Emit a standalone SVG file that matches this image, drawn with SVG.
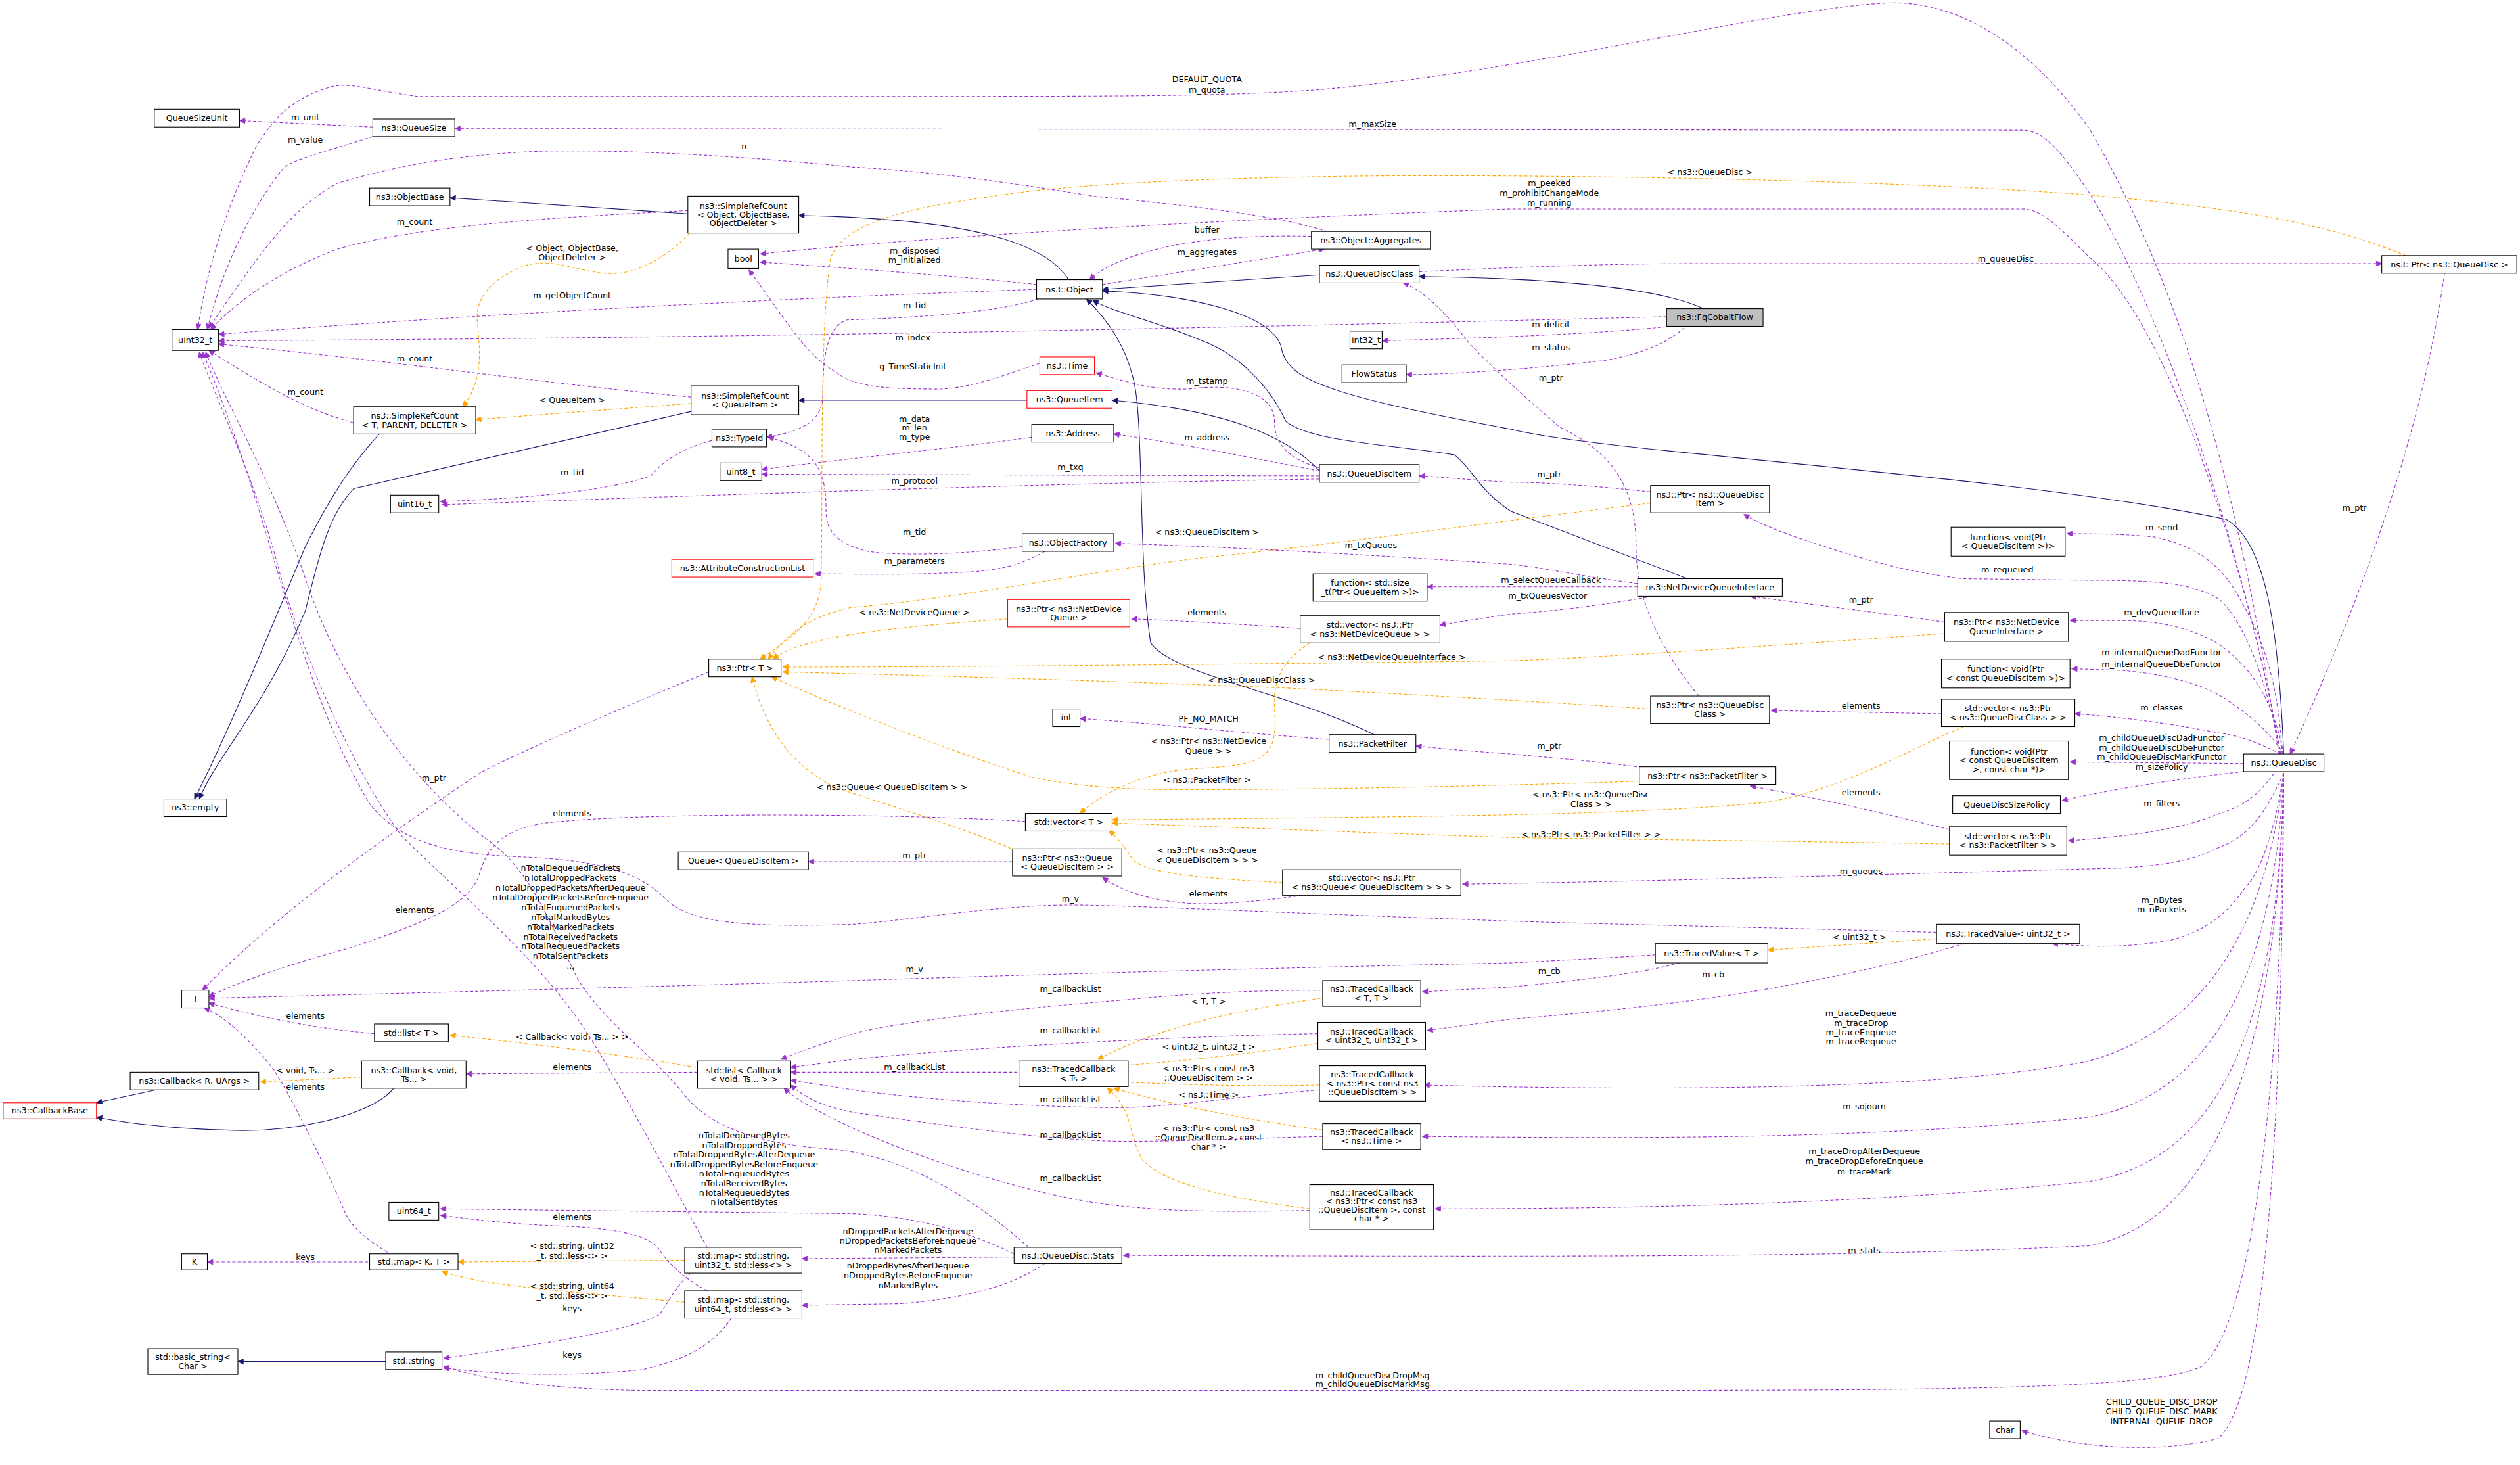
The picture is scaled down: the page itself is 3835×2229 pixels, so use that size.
<svg xmlns="http://www.w3.org/2000/svg" width="3835" height="2229" viewBox="0 0 3835 2229">
<defs>
<style>
text{font-family:"DejaVu Sans","Liberation Sans",sans-serif;font-size:5.2px;text-anchor:middle;fill:#000}
.b{fill:#fff;stroke:#000;stroke-width:.45}
.r{fill:#fff;stroke:#ff0000;stroke-width:.45}
.g{fill:#bfbfbf;stroke:#000;stroke-width:.45}
.p{fill:none;stroke:#9a32cd;stroke-width:.45;stroke-dasharray:2 1.3;marker-end:url(#ap)}
.o{fill:none;stroke:#ffa500;stroke-width:.45;stroke-dasharray:2 1.3;marker-end:url(#ao)}
.s{fill:none;stroke:#191970;stroke-width:.45;marker-end:url(#as)}
</style>
<marker id="ap" viewBox="0 0 10 10" refX="10" refY="5" markerUnits="userSpaceOnUse" markerWidth="4.2" markerHeight="3.4" orient="auto"><path d="M0,0L10,5L0,10z" fill="#9a32cd" stroke="#9a32cd"/></marker>
<marker id="ao" viewBox="0 0 10 10" refX="10" refY="5" markerUnits="userSpaceOnUse" markerWidth="4.2" markerHeight="3.4" orient="auto"><path d="M0,0L10,5L0,10z" fill="#ffa500" stroke="#ffa500"/></marker>
<marker id="as" viewBox="0 0 10 10" refX="10" refY="5" markerUnits="userSpaceOnUse" markerWidth="4.2" markerHeight="3.4" orient="auto"><path d="M0,0L10,5L0,10z" fill="#191970" stroke="#191970"/></marker>
</defs>
<rect width="3835" height="2229" fill="#fff"/>
<g transform="scale(2.4458)">
<g id="edges">
<path class="s" d="M428,133 L280,123"/>
<path class="s" d="M665,174 C650,150 600,136 497,134"/>
<path class="s" d="M821,171 L686,180"/>
<path class="s" d="M1060,192 C1030,178 960,173 883,172"/>
<path class="s" d="M1421,469 C1418,400 1412,338 1385,323 C1250,295 1000,282 940,267 C820,245 800,235 797,215 C790,195 740,183 686,181"/>
<path class="s" d="M1050,360 L940,318 C920,305 915,290 905,283 C870,277 815,275 800,262 C790,240 770,220 748,212 C720,200 695,195 680,187"/>
<path class="s" d="M855,457 C800,430 730,420 716,400 C708,350 712,260 705,235 C700,215 690,200 676,186"/>
<path class="s" d="M639,249 L497,249"/>
<path class="s" d="M821,293 C800,270 760,255 692,249"/>
<path class="s" d="M430,256 L220,304 C205,320 200,340 190,380 C165,440 135,470 124,497"/>
<path class="s" d="M236,270 C225,282 210,300 190,340 C165,400 140,460 121,497"/>
<path class="s" d="M97,678 L60,686"/>
<path class="s" d="M245,677 C230,695 180,705 140,703 C110,702 80,699 60,695"/>
<path class="s" d="M240,847 L148,847"/>

<path class="o" d="M429,145 C415,160 395,172 376,170 C355,168 340,158 320,168 C300,178 296,190 297,200 C298,215 302,235 288,253"/>
<path class="o" d="M430,251 L296,261"/>
<path class="o" d="M1497,159 C1450,140 1400,130 1296,121 C1150,110 900,108 818,110 C700,112 640,118 612,123 C560,130 525,140 517,160 C510,200 512,300 511,360 C510,385 495,395 473,410"/>
<path class="o" d="M1027,313 C950,322 820,340 748,347 C680,355 600,372 529,378 C500,385 490,395 478,410"/>
<path class="o" d="M627,385 C560,390 500,395 481,410"/>
<path class="o" d="M1211,394 C1100,402 980,410 940,411 C800,413 600,415 487,415"/>
<path class="o" d="M1027,441 C980,438 900,433 800,428 C650,422 530,419 487,418"/>
<path class="o" d="M1020,486 C900,490 760,492 714,491 C680,490 660,487 644,484 C600,470 540,448 480,421"/>
<path class="o" d="M632,529 C600,515 550,500 520,490 C490,475 475,450 468,421"/>
<path class="o" d="M815,400 C800,410 792,420 793,440 C795,470 790,476 745,478 C715,480 690,490 672,506"/>
<path class="o" d="M1222,452 C1190,465 1150,490 1100,499 C1020,507 900,508 692,510"/>
<path class="o" d="M1213,525 C1100,523 1000,522 940,521 C850,518 750,514 692,512"/>
<path class="o" d="M798,549 C740,546 715,543 705,535 C700,528 697,522 690,517"/>
<path class="o" d="M1205,584 L1100,591"/>
<path class="o" d="M822,621 C760,630 720,640 683,659"/>
<path class="o" d="M820,649 C780,655 740,660 696,663"/>
<path class="o" d="M821,675 C780,676 740,675 696,673"/>
<path class="o" d="M823,703 C780,697 740,690 693,677"/>
<path class="o" d="M815,752 C760,745 720,735 710,720 C702,705 705,690 689,677"/>
<path class="o" d="M433,664 C380,655 320,648 280,644"/>
<path class="o" d="M225,670 L162,673"/>
<path class="o" d="M426,784 L285,785"/>
<path class="o" d="M426,810 C380,806 330,802 300,797 C290,795 280,793 275,791"/>

<path class="p" d="M232,79 L149,75"/>
<path class="p" d="M232,85 C200,95 180,100 176,105 C160,125 140,160 129,205"/>
<path class="p" d="M1418,469 C1400,350 1370,200 1300,80 C1250,10 1200,0 1172,2 C1100,6 950,45 818,56 C760,60 700,60 531,60 L260,60 C230,56 215,50 203,55 C180,62 170,75 160,90 C140,130 128,170 123,205"/>
<path class="p" d="M1419,469 C1400,360 1350,200 1300,120 C1280,90 1270,81 1258,81 L283,80"/>
<path class="p" d="M826,144 C790,133 740,128 680,122 C620,112 570,106 531,104 C470,98 400,93 339,94 C280,96 240,105 210,114 C180,130 160,160 130,204"/>
<path class="p" d="M816,147 C770,146 740,150 720,155 C700,160 685,167 678,174"/>
<path class="p" d="M686,177 C730,170 780,162 824,155"/>
<path class="p" d="M1419,469 C1400,360 1350,200 1300,160 C1280,140 1270,130 1258,130 L940,130 C800,135 600,145 473,158"/>
<path class="p" d="M645,177 C600,172 530,167 473,163"/>
<path class="p" d="M645,180 C500,185 300,195 136,208"/>
<path class="p" d="M1037,197 C800,203 500,210 136,212"/>
<path class="p" d="M428,131 C350,135 260,140 210,155 C170,170 145,190 131,205"/>
<path class="p" d="M430,247 C350,240 250,225 136,214"/>
<path class="p" d="M220,263 C190,255 165,240 130,218"/>
<path class="p" d="M646,186 C620,195 560,198 527,199 C515,203 512,220 512,245 C512,262 500,268 477,272"/>
<path class="p" d="M647,226 C620,235 600,243 578,242 C550,242 530,240 521,232 C500,220 490,200 466,168"/>
<path class="p" d="M821,291 C800,285 793,275 793,262 C793,245 770,238 740,242 C715,243 700,237 682,232"/>
<path class="p" d="M1040,203 C990,208 930,210 860,212"/>
<path class="p" d="M1048,204 C1035,215 1020,220 1000,224 C950,230 900,233 875,233"/>
<path class="p" d="M1057,433 C1030,400 1018,370 1018,340 C1018,300 1000,280 971,266 C940,240 915,215 913,212 C900,195 885,180 873,176"/>
<path class="p" d="M883,169 C950,166 1000,164 1057,164 L1482,164"/>
<path class="p" d="M1521,170 C1510,250 1480,350 1425,469"/>
<path class="p" d="M642,272 C600,278 530,285 474,292"/>
<path class="p" d="M821,293 C780,285 730,275 693,270"/>
<path class="p" d="M821,296 L474,295"/>
<path class="p" d="M821,298 C700,300 550,304 275,314"/>
<path class="p" d="M443,274 C420,280 410,290 405,296 C380,305 330,310 274,312"/>
<path class="p" d="M636,340 C600,345 560,346 540,343 C520,338 514,330 514,318 C514,295 510,280 478,272"/>
<path class="p" d="M650,343 C635,352 620,355 600,356 C560,358 530,357 507,357"/>
<path class="p" d="M1019,363 C980,358 960,353 940,351 C850,345 760,340 694,338"/>
<path class="p" d="M1027,306 C990,302 960,300 940,300 C920,299 900,297 883,296"/>
<path class="p" d="M1419,469 C1410,420 1395,385 1381,373 C1365,363 1345,361 1300,361 L1221,360 C1180,355 1150,345 1120,335 C1100,328 1090,323 1085,320"/>
<path class="p" d="M1420,469 C1418,430 1410,400 1395,375 C1385,355 1370,340 1340,334 C1320,332 1300,332 1286,332"/>
<path class="p" d="M1019,365 L888,365"/>
<path class="p" d="M1028,371 C1000,376 970,380 940,382 C920,385 900,388 896,389"/>
<path class="p" d="M809,391 C770,388 730,386 704,385"/>
<path class="p" d="M1210,387 C1160,380 1120,375 1089,371"/>
<path class="p" d="M1421,469 C1415,440 1405,420 1385,404 C1370,392 1345,386 1320,386 L1288,386"/>
<path class="p" d="M1421,469 C1412,455 1400,445 1385,435 C1370,425 1345,419 1320,417 L1289,416"/>
<path class="p" d="M1419,469 C1405,462 1395,458 1381,456 C1350,450 1320,446 1291,444"/>
<path class="p" d="M1208,444 L1102,442"/>
<path class="p" d="M1396,475 L1288,474"/>
<path class="p" d="M1396,480 C1350,485 1310,492 1283,498"/>
<path class="p" d="M1415,481 C1405,495 1395,502 1381,506 C1360,515 1330,520 1287,523"/>
<path class="p" d="M1213,516 C1180,508 1140,498 1089,489"/>
<path class="p" d="M1025,478 C1000,474 970,472 940,469 C910,467 890,465 881,464"/>
<path class="p" d="M827,460 C760,455 720,450 672,447"/>
<path class="p" d="M441,418 C400,435 340,460 300,480 C240,520 170,570 126,616"/>
<path class="p" d="M638,511 C560,506 400,505 339,512 C315,516 303,525 298,545 C290,565 260,575 220,589 C180,600 150,610 130,620"/>
<path class="p" d="M630,536 L503,536"/>
<path class="p" d="M810,557 C790,560 760,563 740,562 C715,560 700,555 686,546"/>
<path class="p" d="M1421,481 C1410,505 1400,520 1381,527 C1365,535 1350,538 1320,540 C1200,543 1050,548 910,550"/>
<path class="p" d="M1205,580 C1100,577 1000,575 940,573 C800,568 700,563 667,563 C620,563 570,572 531,575 C470,577 430,575 415,560 C400,545 380,535 322,533 C280,531 250,525 230,500 C200,450 180,380 165,330 C150,280 135,240 126,219"/>
<path class="p" d="M1030,594 C1000,596 960,598 940,599 C800,602 650,606 531,610 C400,614 250,618 130,621"/>
<path class="p" d="M1421,481 C1415,520 1405,545 1397,552 C1385,570 1370,580 1350,585 C1320,590 1300,589 1277,587"/>
<path class="p" d="M1045,599 C1020,606 980,610 940,614 L885,617"/>
<path class="p" d="M1222,587 C1180,600 1140,608 1101,615 C1050,624 990,630 940,634 L888,641"/>
<path class="p" d="M822,616 C780,616 740,618 700,622 C600,630 550,638 531,643 C510,650 495,655 486,659"/>
<path class="p" d="M820,643 C720,645 600,652 531,659 L492,664"/>
<path class="p" d="M633,667 L492,667"/>
<path class="p" d="M821,678 C760,683 720,690 688,689 C620,688 560,682 531,678 L492,672"/>
<path class="p" d="M823,707 C780,708 740,710 701,710 C660,710 600,702 531,692 C510,688 500,682 492,675"/>
<path class="p" d="M815,753 C760,754 720,754 680,748 C620,738 560,715 531,702 C510,692 495,684 488,677"/>
<path class="p" d="M1421,481 C1410,580 1370,640 1300,660 C1200,680 1000,678 886,675"/>
<path class="p" d="M1421,481 C1415,600 1380,680 1300,695 C1150,710 1000,708 885,707"/>
<path class="p" d="M1421,481 C1418,620 1390,720 1300,735 C1150,750 1000,752 893,752"/>
<path class="p" d="M434,667 L290,668"/>
<path class="p" d="M233,643 C200,640 170,635 130,624"/>
<path class="p" d="M241,779 C230,772 220,765 215,755 C200,720 180,680 170,665 C150,640 135,630 127,627"/>
<path class="p" d="M229,785 L129,785"/>
<path class="p" d="M1421,481 C1418,650 1380,760 1300,775 C1150,782 1000,782 699,781"/>
<path class="p" d="M640,776 C600,740 560,720 520,715 C470,712 440,700 425,680 C400,650 380,640 360,610 C340,570 330,540 300,520 C250,480 210,420 190,360 C170,300 140,250 128,219"/>
<path class="p" d="M440,776 C420,740 400,700 370,650 C340,600 290,560 250,520 C220,480 190,410 175,360 C160,300 135,250 124,219"/>
<path class="p" d="M631,780 C600,765 570,757 531,755 L274,752"/>
<path class="p" d="M440,803 C425,795 415,785 410,777 C405,770 390,765 356,763 C320,762 290,758 274,756"/>
<path class="p" d="M430,792 C420,800 415,812 410,818 C395,826 360,833 276,845"/>
<path class="p" d="M455,820 C445,835 430,845 400,852 C350,857 310,855 276,851"/>
<path class="p" d="M631,782 L499,783"/>
<path class="p" d="M650,786 C630,800 600,808 560,811 L499,812"/>
<path class="p" d="M1421,481 C1420,650 1405,820 1370,850 C1340,865 1200,865 940,865 L400,865 C340,864 300,858 276,850"/>
<path class="p" d="M1421,481 C1420,700 1410,870 1380,895 C1340,905 1290,900 1258,890"/>

<text x="356" y="156.3">&lt; Object, ObjectBase,</text><text x="356" y="161.8">ObjectDeleter &gt;</text>
<text x="356" y="250.8">&lt; QueueItem &gt;</text>
<text x="1064" y="108.8">&lt; ns3::QueueDisc &gt;</text>
<text x="751" y="332.8">&lt; ns3::QueueDiscItem &gt;</text>
<text x="569" y="382.8">&lt; ns3::NetDeviceQueue &gt;</text>
<text x="866" y="410.5">&lt; ns3::NetDeviceQueueInterface &gt;</text>
<text x="785" y="424.8">&lt; ns3::QueueDiscClass &gt;</text>
<text x="751" y="486.8">&lt; ns3::PacketFilter &gt;</text>
<text x="555" y="491.5">&lt; ns3::Queue&lt; QueueDiscItem &gt; &gt;</text>
<text x="752" y="462.8">&lt; ns3::Ptr&lt; ns3::NetDevice</text><text x="752" y="468.8">Queue &gt; &gt;</text>
<text x="990" y="496">&lt; ns3::Ptr&lt; ns3::QueueDisc</text><text x="990" y="502">Class &gt; &gt;</text>
<text x="990" y="520.8">&lt; ns3::Ptr&lt; ns3::PacketFilter &gt; &gt;</text>
<text x="751" y="530.8">&lt; ns3::Ptr&lt; ns3::Queue</text><text x="751" y="536.8">&lt; QueueDiscItem &gt; &gt; &gt;</text>
<text x="1157" y="584.8">&lt; uint32_t &gt;</text>
<text x="752" y="624.8">&lt; T, T &gt;</text>
<text x="752" y="652.8">&lt; uint32_t, uint32_t &gt;</text>
<text x="752" y="666.5">&lt; ns3::Ptr&lt; const ns3</text><text x="752" y="672">::QueueDiscItem &gt; &gt;</text>
<text x="752" y="682.8">&lt; ns3::Time &gt;</text>
<text x="752" y="703.5">&lt; ns3::Ptr&lt; const ns3</text><text x="752" y="709.3">::QueueDiscItem &gt;, const</text><text x="752" y="715.1">char * &gt;</text>
<text x="356" y="646.8">&lt; Callback&lt; void, Ts... &gt; &gt;</text>
<text x="190" y="667.8">&lt; void, Ts... &gt;</text>
<text x="356" y="776.8">&lt; std::string, uint32</text><text x="356" y="782.8">_t, std::less&lt;&gt; &gt;</text>
<text x="356" y="801.8">&lt; std::string, uint64</text><text x="356" y="807.8">_t, std::less&lt;&gt; &gt;</text>

<text x="190" y="74.8">m_unit</text>
<text x="190" y="88.8">m_value</text>
<text x="751" y="51">DEFAULT_QUOTA</text><text x="751" y="57.5">m_quota</text>
<text x="854" y="78.8">m_maxSize</text>
<text x="463" y="92.8">n</text>
<text x="751" y="144.8">buffer</text>
<text x="751" y="158.8">m_aggregates</text>
<text x="964" y="115.8">m_peeked</text><text x="964" y="121.8">m_prohibitChangeMode</text><text x="964" y="127.8">m_running</text>
<text x="569" y="157.8">m_disposed</text><text x="569" y="163.6">m_initialized</text>
<text x="356" y="185.8">m_getObjectCount</text>
<text x="568" y="211.8">m_index</text>
<text x="258" y="139.8">m_count</text>
<text x="258" y="224.8">m_count</text>
<text x="190" y="245.8">m_count</text>
<text x="569" y="191.8">m_tid</text>
<text x="568" y="229.8">g_TimeStaticInit</text>
<text x="751" y="238.8">m_tstamp</text>
<text x="965" y="203.8">m_deficit</text>
<text x="965" y="217.8">m_status</text>
<text x="965" y="236.8">m_ptr</text>
<text x="1248" y="162.8">m_queueDisc</text>
<text x="1465" y="317.8">m_ptr</text>
<text x="569" y="262.3">m_data</text><text x="569" y="267.8">m_len</text><text x="569" y="273.6">m_type</text>
<text x="751" y="273.8">m_address</text>
<text x="666" y="292.3">m_txq</text>
<text x="569" y="300.8">m_protocol</text>
<text x="356" y="295.8">m_tid</text>
<text x="569" y="332.8">m_tid</text>
<text x="569" y="350.8">m_parameters</text>
<text x="853" y="340.8">m_txQueues</text>
<text x="964" y="296.8">m_ptr</text>
<text x="1249" y="356.3">m_requeued</text>
<text x="1345" y="329.8">m_send</text>
<text x="965" y="362.8">m_selectQueueCallback</text>
<text x="963" y="372.3">m_txQueuesVector</text>
<text x="751" y="382.8">elements</text>
<text x="1158" y="374.8">m_ptr</text>
<text x="1345" y="382.8">m_devQueueIface</text>
<text x="1345" y="407.8">m_internalQueueDadFunctor</text><text x="1345" y="414.8">m_internalQueueDbeFunctor</text>
<text x="1345" y="441.8">m_classes</text>
<text x="1158" y="440.8">elements</text>
<text x="1345" y="460.8">m_childQueueDiscDadFunctor</text><text x="1345" y="466.8">m_childQueueDiscDbeFunctor</text><text x="1345" y="472.8">m_childQueueDiscMarkFunctor</text>
<text x="1345" y="478.8">m_sizePolicy</text>
<text x="1345" y="501.8">m_filters</text>
<text x="1158" y="494.8">elements</text>
<text x="964" y="465.8">m_ptr</text>
<text x="752" y="448.8">PF_NO_MATCH</text>
<text x="270" y="485.8">m_ptr</text>
<text x="356" y="507.8">elements</text>
<text x="569" y="533.8">m_ptr</text>
<text x="752" y="557.8">elements</text>
<text x="1158" y="543.8">m_queues</text>
<text x="666" y="560.8">m_v</text>
<text x="569" y="604.8">m_v</text>
<text x="1345" y="561.8">m_nBytes</text><text x="1345" y="567.3">m_nPackets</text>
<text x="964" y="605.8">m_cb</text>
<text x="1066" y="607.8">m_cb</text>
<text x="666" y="616.8">m_callbackList</text>
<text x="666" y="642.8">m_callbackList</text>
<text x="569" y="665.8">m_callbackList</text>
<text x="666" y="685.8">m_callbackList</text>
<text x="666" y="707.8">m_callbackList</text>
<text x="666" y="734.8">m_callbackList</text>
<text x="1158" y="632.3">m_traceDequeue</text><text x="1158" y="638.1">m_traceDrop</text><text x="1158" y="643.8">m_traceEnqueue</text><text x="1158" y="649.6">m_traceRequeue</text>
<text x="1160" y="690">m_sojourn</text>
<text x="1160" y="718">m_traceDropAfterDequeue</text><text x="1160" y="724.3">m_traceDropBeforeEnqueue</text><text x="1160" y="730.6">m_traceMark</text>
<text x="356" y="665.8">elements</text>
<text x="190" y="633.8">elements</text>
<text x="190" y="677.8">elements</text>
<text x="190" y="783.8">keys</text>
<text x="1160" y="779.8">m_stats</text>
<text x="258" y="567.8">elements</text>
<text x="355" y="541.8">nTotalDequeuedPackets</text><text x="355" y="547.9">nTotalDroppedPackets</text><text x="355" y="554">nTotalDroppedPacketsAfterDequeue</text><text x="355" y="560.1">nTotalDroppedPacketsBeforeEnqueue</text><text x="355" y="566.2">nTotalEnqueuedPackets</text><text x="355" y="572.3">nTotalMarkedBytes</text><text x="355" y="578.4">nTotalMarkedPackets</text><text x="355" y="584.5">nTotalReceivedPackets</text><text x="355" y="590.6">nTotalRequeuedPackets</text><text x="355" y="596.7">nTotalSentPackets</text><text x="355" y="602.8">...</text>
<text x="463" y="708.3">nTotalDequeuedBytes</text><text x="463" y="714.2">nTotalDroppedBytes</text><text x="463" y="720.1">nTotalDroppedBytesAfterDequeue</text><text x="463" y="726">nTotalDroppedBytesBeforeEnqueue</text><text x="463" y="731.9">nTotalEnqueuedBytes</text><text x="463" y="737.8">nTotalReceivedBytes</text><text x="463" y="743.7">nTotalRequeuedBytes</text><text x="463" y="749.6">nTotalSentBytes</text>
<text x="356" y="758.8">elements</text>
<text x="356" y="815.8">keys</text>
<text x="356" y="844.8">keys</text>
<text x="565" y="767.8">nDroppedPacketsAfterDequeue</text><text x="565" y="773.6">nDroppedPacketsBeforeEnqueue</text><text x="565" y="779.4">nMarkedPackets</text>
<text x="565" y="789.3">nDroppedBytesAfterDequeue</text><text x="565" y="795.4">nDroppedBytesBeforeEnqueue</text><text x="565" y="801.5">nMarkedBytes</text>
<text x="854" y="857.3">m_childQueueDiscDropMsg</text><text x="854" y="862.8">m_childQueueDiscMarkMsg</text>
<text x="1345" y="873.8">CHILD_QUEUE_DISC_DROP</text><text x="1345" y="880">CHILD_QUEUE_DISC_MARK</text><text x="1345" y="886.2">INTERNAL_QUEUE_DROP</text>
</g>

<g id="n1"><rect class="b" x="96" y="68" width="53" height="11"/><text x="122.5" y="75.3">QueueSizeUnit</text></g>
<g id="n2"><rect class="b" x="232" y="74" width="51" height="11"/><text x="257.5" y="81.3">ns3::QueueSize</text></g>
<g id="n3"><rect class="b" x="230" y="117" width="50" height="11"/><text x="255" y="124.3">ns3::ObjectBase</text></g>
<g id="n4"><rect class="b" x="428" y="122" width="69" height="23"/><text x="462.5" y="129.9">ns3::SimpleRefCount</text><text x="462.5" y="135.3">&lt; Object, ObjectBase,</text><text x="462.5" y="140.7">ObjectDeleter &gt;</text></g>
<g id="n5"><rect class="b" x="453" y="155" width="19" height="12"/><text x="462.5" y="162.8">bool</text></g>
<g id="n6"><rect class="b" x="816" y="144" width="74" height="11"/><text x="853" y="151.3">ns3::Object::Aggregates</text></g>
<g id="n7"><rect class="b" x="645" y="174" width="41" height="12"/><text x="665.5" y="181.8">ns3::Object</text></g>
<g id="n8"><rect class="b" x="821" y="165" width="62" height="11"/><text x="852" y="172.3">ns3::QueueDiscClass</text></g>
<g id="n9"><rect class="g" x="1037" y="192" width="60" height="11"/><text x="1067" y="199.3">ns3::FqCobaltFlow</text></g>
<g id="n10"><rect class="b" x="107" y="205" width="29" height="13"/><text x="121.5" y="213.3">uint32_t</text></g>
<g id="n11"><rect class="b" x="840" y="206" width="20" height="11"/><text x="850" y="213.3">int32_t</text></g>
<g id="n12"><rect class="b" x="835" y="227" width="40" height="11"/><text x="855" y="234.3">FlowStatus</text></g>
<g id="n13"><rect class="r" x="647" y="222" width="34" height="11"/><text x="664" y="229.3">ns3::Time</text></g>
<g id="n14"><rect class="b" x="430" y="240" width="67" height="18"/><text x="463.5" y="248">ns3::SimpleRefCount</text><text x="463.5" y="253.5">&lt; QueueItem &gt;</text></g>
<g id="n15"><rect class="r" x="639" y="243" width="53" height="11"/><text x="665.5" y="250.3">ns3::QueueItem</text></g>
<g id="n16"><rect class="b" x="220" y="253" width="76" height="17"/><text x="258" y="260.5">ns3::SimpleRefCount</text><text x="258" y="266">&lt; T, PARENT, DELETER &gt;</text></g>
<g id="n17"><rect class="b" x="443" y="267" width="34" height="11"/><text x="460" y="274.3">ns3::TypeId</text></g>
<g id="n18"><rect class="b" x="642" y="264" width="51" height="11"/><text x="667.5" y="271.3">ns3::Address</text></g>
<g id="n19"><rect class="b" x="448" y="288" width="26" height="11"/><text x="461" y="295.3">uint8_t</text></g>
<g id="n20"><rect class="b" x="821" y="289" width="62" height="11"/><text x="852" y="296.3">ns3::QueueDiscItem</text></g>
<g id="n21"><rect class="b" x="243" y="308" width="30" height="11"/><text x="258" y="315.3">uint16_t</text></g>
<g id="n22"><rect class="b" x="1027" y="302" width="74" height="17"/><text x="1064" y="309.5">ns3::Ptr&lt; ns3::QueueDisc</text><text x="1064" y="315">Item &gt;</text></g>
<g id="n23"><rect class="b" x="636" y="332" width="57" height="11"/><text x="664.5" y="339.3">ns3::ObjectFactory</text></g>
<g id="n24"><rect class="b" x="1214" y="328" width="71" height="18"/><text x="1249.5" y="336">function&lt; void(Ptr</text><text x="1249.5" y="341.5">&lt; QueueDiscItem &gt;)&gt;</text></g>
<g id="n25"><rect class="r" x="418" y="348" width="88" height="11"/><text x="462" y="355.3">ns3::AttributeConstructionList</text></g>
<g id="n26"><rect class="b" x="817" y="357" width="71" height="17"/><text x="852.5" y="364.5">function&lt; std::size</text><text x="852.5" y="370">_t(Ptr&lt; QueueItem &gt;)&gt;</text></g>
<g id="n27"><rect class="b" x="1019" y="360" width="90" height="11"/><text x="1064" y="367.3">ns3::NetDeviceQueueInterface</text></g>
<g id="n28"><rect class="r" x="627" y="373" width="76" height="17"/><text x="665" y="380.5">ns3::Ptr&lt; ns3::NetDevice</text><text x="665" y="386">Queue &gt;</text></g>
<g id="n29"><rect class="b" x="809" y="383" width="87" height="17"/><text x="852.5" y="390.5">std::vector&lt; ns3::Ptr</text><text x="852.5" y="396">&lt; ns3::NetDeviceQueue &gt; &gt;</text></g>
<g id="n30"><rect class="b" x="441" y="410" width="45" height="11"/><text x="463.5" y="417.3">ns3::Ptr&lt; T &gt;</text></g>
<g id="n31"><rect class="b" x="1210" y="381" width="77" height="18"/><text x="1248.5" y="389">ns3::Ptr&lt; ns3::NetDevice</text><text x="1248.5" y="394.5">QueueInterface &gt;</text></g>
<g id="n32"><rect class="b" x="1208" y="410" width="80" height="18"/><text x="1248" y="418">function&lt; void(Ptr</text><text x="1248" y="423.5">&lt; const QueueDiscItem &gt;)&gt;</text></g>
<g id="n33"><rect class="b" x="1027" y="433" width="74" height="17"/><text x="1064" y="440.5">ns3::Ptr&lt; ns3::QueueDisc</text><text x="1064" y="446">Class &gt;</text></g>
<g id="n34"><rect class="b" x="1208" y="435" width="83" height="17"/><text x="1249.5" y="442.5">std::vector&lt; ns3::Ptr</text><text x="1249.5" y="448">&lt; ns3::QueueDiscClass &gt; &gt;</text></g>
<g id="n35"><rect class="b" x="655" y="441" width="17" height="11"/><text x="663.5" y="448.3">int</text></g>
<g id="n36"><rect class="b" x="827" y="457" width="54" height="11"/><text x="854" y="464.3">ns3::PacketFilter</text></g>
<g id="n37"><rect class="b" x="1396" y="469" width="50" height="11"/><text x="1421" y="476.3">ns3::QueueDisc</text></g>
<g id="n38"><rect class="b" x="1213" y="461" width="74" height="24"/><text x="1250" y="469.3">function&lt; void(Ptr</text><text x="1250" y="474.8">&lt; const QueueDiscItem</text><text x="1250" y="480.3">&gt;, const char *)&gt;</text></g>
<g id="n39"><rect class="b" x="1020" y="477" width="85" height="11"/><text x="1062.5" y="484.3">ns3::Ptr&lt; ns3::PacketFilter &gt;</text></g>
<g id="n40"><rect class="b" x="1215" y="495" width="67" height="11"/><text x="1248.5" y="502.3">QueueDiscSizePolicy</text></g>
<g id="n41"><rect class="b" x="102" y="497" width="39" height="11"/><text x="121.5" y="504.3">ns3::empty</text></g>
<g id="n42"><rect class="b" x="638" y="506" width="54" height="11"/><text x="665" y="513.3">std::vector&lt; T &gt;</text></g>
<g id="n43"><rect class="b" x="1213" y="514" width="73" height="18"/><text x="1249.5" y="522">std::vector&lt; ns3::Ptr</text><text x="1249.5" y="527.5">&lt; ns3::PacketFilter &gt; &gt;</text></g>
<g id="n44"><rect class="b" x="422" y="530" width="81" height="11"/><text x="462.5" y="537.3">Queue&lt; QueueDiscItem &gt;</text></g>
<g id="n45"><rect class="b" x="630" y="528" width="68" height="17"/><text x="664" y="535.5">ns3::Ptr&lt; ns3::Queue</text><text x="664" y="541">&lt; QueueDiscItem &gt; &gt;</text></g>
<g id="n46"><rect class="b" x="798" y="541" width="111" height="16"/><text x="853.5" y="548">std::vector&lt; ns3::Ptr</text><text x="853.5" y="553.5">&lt; ns3::Queue&lt; QueueDiscItem &gt; &gt; &gt;</text></g>
<g id="n47"><rect class="b" x="1205" y="575" width="89" height="12"/><text x="1249.5" y="582.8">ns3::TracedValue&lt; uint32_t &gt;</text></g>
<g id="n48"><rect class="b" x="1030" y="587" width="70" height="12"/><text x="1065" y="594.8">ns3::TracedValue&lt; T &gt;</text></g>
<g id="n49"><rect class="b" x="113" y="616" width="17" height="11"/><text x="121.5" y="623.3">T</text></g>
<g id="n50"><rect class="b" x="823" y="610" width="61" height="16"/><text x="853.5" y="617">ns3::TracedCallback</text><text x="853.5" y="622.5">&lt; T, T &gt;</text></g>
<g id="n51"><rect class="b" x="233" y="637" width="46" height="11"/><text x="256" y="644.3">std::list&lt; T &gt;</text></g>
<g id="n52"><rect class="b" x="820" y="636" width="67" height="17"/><text x="853.5" y="643.5">ns3::TracedCallback</text><text x="853.5" y="649">&lt; uint32_t, uint32_t &gt;</text></g>
<g id="n53"><rect class="b" x="81" y="667" width="80" height="11"/><text x="121" y="674.3">ns3::Callback&lt; R, UArgs &gt;</text></g>
<g id="n54"><rect class="b" x="225" y="660" width="65" height="17"/><text x="257.5" y="667.5">ns3::Callback&lt; void,</text><text x="257.5" y="673">Ts... &gt;</text></g>
<g id="n55"><rect class="b" x="434" y="660" width="58" height="17"/><text x="463" y="667.5">std::list&lt; Callback</text><text x="463" y="673">&lt; void, Ts... &gt; &gt;</text></g>
<g id="n56"><rect class="b" x="634" y="660" width="68" height="16"/><text x="668" y="667">ns3::TracedCallback</text><text x="668" y="672.5">&lt; Ts &gt;</text></g>
<g id="n57"><rect class="b" x="821" y="663" width="66" height="22"/><text x="854" y="670.3">ns3::TracedCallback</text><text x="854" y="675.7">&lt; ns3::Ptr&lt; const ns3</text><text x="854" y="681.1">::QueueDiscItem &gt; &gt;</text></g>
<g id="n58"><rect class="r" x="2" y="686" width="58" height="10"/><text x="31" y="692.8">ns3::CallbackBase</text></g>
<g id="n59"><rect class="b" x="823" y="699" width="61" height="16"/><text x="853.5" y="706">ns3::TracedCallback</text><text x="853.5" y="711.5">&lt; ns3::Time &gt;</text></g>
<g id="n60"><rect class="b" x="815" y="737" width="77" height="28"/><text x="853.5" y="743.6">ns3::TracedCallback</text><text x="853.5" y="749">&lt; ns3::Ptr&lt; const ns3</text><text x="853.5" y="754.4">::QueueDiscItem &gt;, const</text><text x="853.5" y="759.8">char * &gt;</text></g>
<g id="n61"><rect class="b" x="242" y="748" width="31" height="11"/><text x="257.5" y="755.3">uint64_t</text></g>
<g id="n62"><rect class="b" x="631" y="776" width="67" height="10"/><text x="664.5" y="782.8">ns3::QueueDisc::Stats</text></g>
<g id="n63"><rect class="b" x="113" y="780" width="16" height="10"/><text x="121" y="786.8">K</text></g>
<g id="n64"><rect class="b" x="230" y="780" width="55" height="10"/><text x="257.5" y="786.8">std::map&lt; K, T &gt;</text></g>
<g id="n65"><rect class="b" x="426" y="776" width="73" height="16"/><text x="462.5" y="783">std::map&lt; std::string,</text><text x="462.5" y="788.5">uint32_t, std::less&lt;&gt; &gt;</text></g>
<g id="n66"><rect class="b" x="426" y="803" width="73" height="17"/><text x="462.5" y="810.5">std::map&lt; std::string,</text><text x="462.5" y="816">uint64_t, std::less&lt;&gt; &gt;</text></g>
<g id="n67"><rect class="b" x="92" y="839" width="56" height="16"/><text x="120" y="846">std::basic_string&lt;</text><text x="120" y="851.5">Char &gt;</text></g>
<g id="n68"><rect class="b" x="240" y="841" width="35" height="11"/><text x="257.5" y="848.3">std::string</text></g>
<g id="n69"><rect class="b" x="1238" y="884" width="19" height="11"/><text x="1247.5" y="891.3">char</text></g>
<g id="n70"><rect class="b" x="1482" y="159" width="84" height="11"/><text x="1524" y="166.3">ns3::Ptr&lt; ns3::QueueDisc &gt;</text></g>
</g>
</svg>
